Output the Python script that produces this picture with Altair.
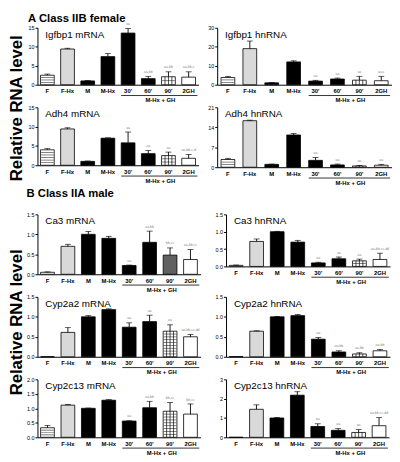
import altair as alt
import pandas as pd

FONT = "Liberation Sans"
CATS = ["F", "F-Hx", "M", "M-Hx", "30'", "60'", "90'", "2GH"]
FILLS = ["white", "#d9d9d9", "black", "black", "black", "black", "white", "white"]

# ---- A: Class IIB female ----
igfbp1_mrna = [2.5, 9.4, 1.0, 7.4, 13.6, 1.6, 2.1, 2.0]
igfbp1_mrna_err = [0.3, 0.2, 0.1, 0.8, 1.2, 0.6, 1.3, 1.4]
igfbp1_mrna_sig = ["", "", "", "", "aa", "aa,bb", "aa,bb", "aa,bb,c"]

igfbp1_hnrna = [3.8, 19.0, 1.0, 12.0, 1.9, 3.0, 2.4, 2.1]
igfbp1_hnrna_err = [0.6, 4.0, 0.1, 0.6, 0.4, 0.5, 2.0, 2.3]
igfbp1_hnrna_sig = ["", "", "", "", "aa", "aa", "aa", "aa,c"]

adh4_mrna = [4.0, 9.4, 1.0, 7.0, 5.8, 3.0, 2.5, 1.8]
adh4_mrna_err = [0.3, 0.3, 0.1, 0.1, 2.8, 0.8, 0.9, 1.0]
adh4_mrna_sig = ["", "", "", "", "aa", "aa", "aa", "aa,bb,c,d"]

adh4_hnrna = [2.7, 16.3, 1.0, 11.3, 2.4, 0.8, 0.45, 0.7]
adh4_hnrna_err = [0.4, 0.2, 0.1, 0.5, 1.0, 0.3, 0.15, 0.3]
adh4_hnrna_sig = ["", "", "", "", "aa", "aa", "aa", "aa"]

# ---- B: Class IIA male ----
ca3_mrna = [0.05, 0.70, 1.00, 0.90, 0.22, 0.80, 0.48, 0.37]
ca3_mrna_err = [0.01, 0.05, 0.07, 0.05, 0.01, 0.28, 0.18, 0.25]
ca3_mrna_sig = ["", "", "", "", "aa", "aa,bb", "bb,cc", "aa,bb,cc"]

ca3_hnrna = [0.03, 0.72, 1.00, 0.70, 0.10, 0.22, 0.16, 0.20]
ca3_hnrna_err = [0.01, 0.07, 0.01, 0.05, 0.02, 0.05, 0.05, 0.18]
ca3_hnrna_sig = ["", "", "", "", "aa", "aa", "aa", "aa,bb,cc,dd"]

cyp2a2_mrna = [0.0, 0.61, 1.00, 1.18, 0.74, 0.88, 0.64, 0.50]
cyp2a2_mrna_err = [0.0, 0.12, 0.03, 0.02, 0.11, 0.16, 0.16, 0.06]
cyp2a2_mrna_sig = ["", "", "", "", "aa", "aa", "aa", "aa,bb,cc,dd"]

cyp2a2_hnrna = [0.005, 0.64, 1.00, 1.03, 0.44, 0.12, 0.07, 0.15]
cyp2a2_hnrna_err = [0.0, 0.01, 0.01, 0.03, 0.04, 0.03, 0.03, 0.03]
cyp2a2_hnrna_sig = ["", "", "", "", "aa", "aa,bb", "aa,bb", "aa,bb"]

cyp2c13_mrna = [0.33, 1.11, 1.00, 1.28, 0.56, 1.02, 0.90, 0.80]
cyp2c13_mrna_err = [0.08, 0.02, 0.01, 0.02, 0.01, 0.22, 0.30, 0.35]
cyp2c13_mrna_sig = ["", "", "", "", "aa", "aa,bb", "bb,cc", "bb,cc"]

cyp2c13_hnrna = [0.0, 1.45, 1.00, 2.18, 0.56, 0.36, 0.25, 0.60]
cyp2c13_hnrna_err = [0.0, 0.23, 0.02, 0.18, 0.14, 0.09, 0.15, 0.42]
cyp2c13_hnrna_sig = ["", "", "", "", "aa", "aa", "aa", "aa,bb,cc,dd"]

BW = 14
PI, PO = 0.32, 0.15


def pattern_rows(cat, v, ymax, h, gap):
    px = v / ymax * h
    n = int(px // gap)
    if n < 2:
        return []
    return [{"cat": cat, "s": v * k / n} for k in range(1, n)]


def panel(title, vals, errs, sigs, ymax, ticks, fmt, w, h, dots90=False):
    fills = list(FILLS)
    if dots90:
        fills[6] = "#606060"
    df = pd.DataFrame({"cat": CATS, "v": vals, "e": errs, "sig": sigs, "fill": fills})
    df["top"] = df["v"] + df["e"]
    xs = alt.Scale(domain=CATS, paddingInner=PI, paddingOuter=PO)
    ys = alt.Scale(domain=[0, ymax], nice=False, zero=True)
    xax = alt.Axis(labelAngle=0, labelFontSize=6, labelFontWeight="bold", labelFont=FONT,
                   ticks=False, domainColor="black", domainWidth=1, labelColor="black",
                   title=None, labelPadding=3)
    yax = alt.Axis(values=ticks, format=fmt, labelFontSize=5.5, labelFont=FONT, tickSize=2.5,
                   labelPadding=1, domainColor="black", tickColor="black", labelColor="black",
                   grid=False, title=None, domainWidth=1, tickWidth=1)

    def X(f="cat"):
        return alt.X(f"{f}:N", scale=xs, axis=xax, sort=CATS)

    def Y(f):
        return alt.Y(f"{f}:Q", scale=ys, axis=yax)

    bars = alt.Chart(df).mark_bar(size=BW, stroke="black", strokeWidth=0.8).encode(
        x=X(), y=Y("v"), fill=alt.Fill("fill:N", scale=None))
    layers = [bars]

    # horizontal stripes in F, grid in 90'
    rows = pattern_rows("F", vals[0], ymax, h, 2.4)
    if not dots90:
        rows += pattern_rows("90'", vals[6], ymax, h, 2.8)
    if rows:
        layers.append(alt.Chart(pd.DataFrame(rows)).mark_tick(
            size=BW - 1, thickness=0.7, color="black").encode(x=X(), y=Y("s")))
    if not dots90:
        g = df[df.cat == "90'"].assign(z=0.0)
        for off in (-3.5, 0, 3.5):
            layers.append(alt.Chart(g).mark_rule(xOffset=off, strokeWidth=0.7, color="black").encode(
                x=X(), y=Y("z"), y2="v:Q"))

    e = df[df.e > 0]
    layers.append(alt.Chart(e).mark_rule(strokeWidth=0.9, color="black").encode(
        x=X(), y=Y("v"), y2="top:Q"))
    layers.append(alt.Chart(e).mark_tick(size=6, thickness=0.9, color="black").encode(
        x=X(), y=Y("top")))
    s = df[df.sig != ""]
    layers.append(alt.Chart(s).mark_text(dy=-2.5, baseline="bottom", fontSize=3.6, font=FONT,
                                         color="#8a8a8a").encode(
        x=X(), y=Y("top"), text="sig:N"))

    # panel title
    layers.append(alt.Chart(alt.Data(values=[{}])).mark_text(
        text=title, align="left", baseline="top", fontSize=10, font=FONT, color="black").encode(
        x=alt.value(8), y=alt.value(2)))

    # group bracket "M-Hx + GH"
    step = w / (8 - PI + 2 * PO)
    gdf = pd.DataFrame({"a": ["30'"], "b": ["2GH"], "lab": ["M-Hx + GH"], "m": ["60'"]})
    layers.append(alt.Chart(gdf).mark_rule(xOffset=-7, x2Offset=9, strokeWidth=0.8, color="black").encode(
        x=X("a"), x2="b:N", y=alt.value(h + 11)))
    layers.append(alt.Chart(gdf).mark_text(dx=step / 2 + 2, baseline="top", fontSize=6,
                                           fontWeight="bold", font=FONT, color="black").encode(
        x=X("m"), y=alt.value(h + 13), text="lab:N"))

    return alt.layer(*layers).properties(width=w, height=h)


p1 = panel("Igfbp1 mRNA", igfbp1_mrna, igfbp1_mrna_err, igfbp1_mrna_sig, 15, [0, 5, 10, 15], "d", 164, 58)
p2 = panel("Igfbp1 hnRNA", igfbp1_hnrna, igfbp1_hnrna_err, igfbp1_hnrna_sig, 30, [0, 10, 20, 30], "d", 178, 58)
p3 = panel("Adh4 mRNA", adh4_mrna, adh4_mrna_err, adh4_mrna_sig, 15, [0, 5, 10, 15], "d", 164, 59)
p4 = panel("Adh4 hnRNA", adh4_hnrna, adh4_hnrna_err, adh4_hnrna_sig, 21, [0, 7, 14, 21], "d", 178, 61)
p5 = panel("Ca3 mRNA", ca3_mrna, ca3_mrna_err, ca3_mrna_sig, 1.5, [0, 0.5, 1.0, 1.5], ".1f", 166, 61, dots90=True)
p6 = panel("Ca3 hnRNA", ca3_hnrna, ca3_hnrna_err, ca3_hnrna_sig, 1.5, [0, 0.5, 1.0, 1.5], ".1f", 167, 53)
p7 = panel("Cyp2a2 mRNA", cyp2a2_mrna, cyp2a2_mrna_err, cyp2a2_mrna_sig, 1.5, [0, 0.5, 1.0, 1.5], ".1f", 166, 61)
p8 = panel("Cyp2a2 hnRNA", cyp2a2_hnrna, cyp2a2_hnrna_err, cyp2a2_hnrna_sig, 1.5, [0, 0.5, 1.0, 1.5], ".1f", 167, 61)
p9 = panel("Cyp2c13 mRNA", cyp2c13_mrna, cyp2c13_mrna_err, cyp2c13_mrna_sig, 2.0, [0, 0.5, 1.0, 1.5, 2.0], ".1f", 166, 59)
p10 = panel("Cyp2c13 hnRNA", cyp2c13_hnrna, cyp2c13_hnrna_err, cyp2c13_hnrna_sig, 3, [0, 1, 2, 3], "d", 166, 59)

sec = dict(anchor="start", fontSize=11.5, fontWeight="bold", font=FONT, color="black")
row1 = alt.hconcat(p1, p2, spacing=9, title=alt.TitleParams("A Class IIB female", offset=-2, **sec))
row2 = alt.hconcat(p3, p4, spacing=9)
row3 = alt.hconcat(p5, p6, spacing=14, title=alt.TitleParams("B Class IIA male", offset=13, **sec))
row4 = alt.hconcat(p7, p8, spacing=14)
row5 = alt.hconcat(p9, p10, spacing=19)
body = alt.vconcat(row1, row2, row3, row4, row5, spacing=2)

lab = alt.Chart(alt.Data(values=[{}]))
lab_style = dict(text="Relative RNA level", angle=270, fontSize=17, fontWeight="bold", font=FONT,
                 align="center", baseline="middle", color="black")
labA = lab.mark_text(**lab_style).encode(x=alt.value(8.5), y=alt.value(82))
labB = lab.mark_text(**lab_style).encode(x=alt.value(8.5), y=alt.value(300))
labels = alt.layer(labA, labB).properties(width=16, height=400)

chart = alt.hconcat(labels, body, spacing=0).properties(padding=0).configure_view(stroke=None)
chart.save("out.html", embed_options={"renderer": "svg", "actions": False})
